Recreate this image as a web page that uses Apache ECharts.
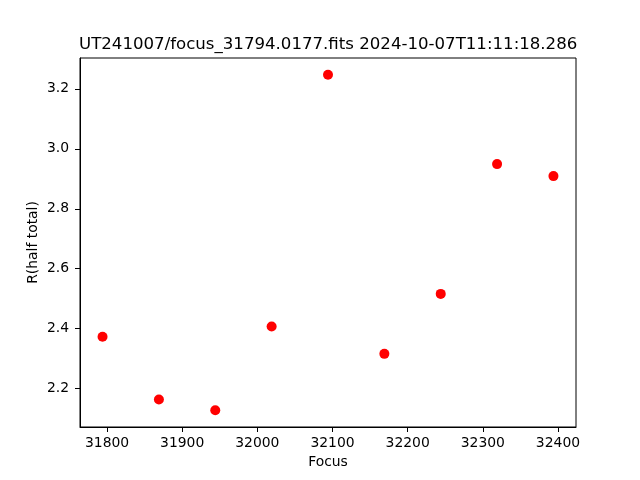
<!DOCTYPE html>
<html>
<head>
<meta charset="utf-8">
<script src="https://cdn.jsdelivr.net/npm/echarts@6/dist/echarts.min.js"></script>
<style>html,body{margin:0;padding:0;background:#fff}#c{width:640px;height:480px}</style>
</head>
<body>
<div id="c"></div>
<script>
const titleText = "UT241007/focus_31794.0177.fits 2024-10-07T11:11:18.286";
const focus = [31794, 31869, 31944, 32019, 32094, 32169, 32244, 32319, 32394];
const rHalfTotal = [2.373, 2.164, 2.128, 2.407, 3.247, 2.316, 2.516, 2.949, 2.909];
const xTicks = [31800, 31900, 32000, 32100, 32200, 32300, 32400];
const yTicks = [2.2, 2.4, 2.6, 2.8, 3.0, 3.2];
const xLabel = "Focus";
const yLabel = "R(half total)";

const font = "DejaVu Sans";
const chart = echarts.init(document.getElementById('c'), null, {renderer: 'canvas'});
chart.setOption({
  animation: false,
  backgroundColor: '#fff',
  title: {
    text: titleText,
    left: 79, top: 36, padding: 0,
    textStyle: {fontFamily: font, fontSize: 16.6, fontWeight: 'normal', color: '#000'}
  },
  grid: {left: 80, right: 64, top: 58, bottom: 53, show: true, borderColor: '#000', borderWidth: 1, backgroundColor: 'transparent'},
  xAxis: {
    type: 'value', min: 31764, max: 32424,
    name: xLabel, nameLocation: 'middle', nameGap: 28, nameMoveOverlap: false,
    nameTextStyle: {fontFamily: font, fontSize: 13.9, color: '#000'},
    axisLine: {show: true, lineStyle: {color: '#000', width: 1}},
    axisTick: {show: true, inside: false, length: 5, lineStyle: {color: '#000'}, customValues: xTicks},
    axisLabel: {fontFamily: font, fontSize: 13.9, color: '#000', margin: 9, customValues: xTicks,
      formatter: v => String(Math.round(v))},
    splitLine: {show: false}
  },
  yAxis: {
    type: 'value', min: 2.072, max: 3.303,
    name: yLabel, nameLocation: 'middle', nameGap: 40, nameMoveOverlap: false,
    nameTextStyle: {fontFamily: font, fontSize: 13.9, color: '#000'},
    axisLine: {show: true, lineStyle: {color: '#000', width: 1}},
    axisTick: {show: true, inside: false, length: 5, lineStyle: {color: '#000'}, customValues: yTicks},
    axisLabel: {fontFamily: font, fontSize: 13.9, color: '#000', margin: 11, customValues: yTicks,
      formatter: v => v.toFixed(1)},
    splitLine: {show: false}
  },
  series: [{
    type: 'scatter',
    data: focus.map((f, i) => [f, rHalfTotal[i]]),
    symbol: 'circle', symbolSize: 10,
    itemStyle: {color: '#ff0000', opacity: 1}
  }]
});
</script>
</body>
</html>
